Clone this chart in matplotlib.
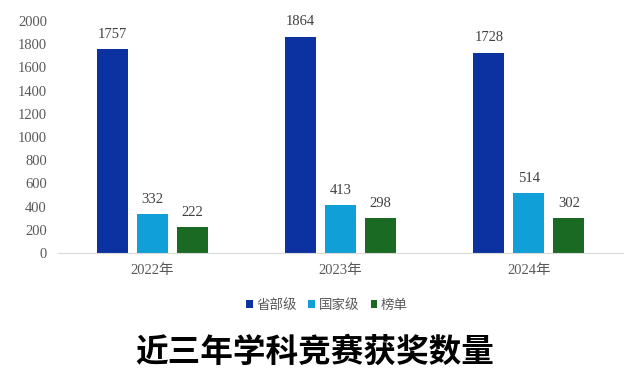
import numpy as np
import matplotlib
matplotlib.use("Agg")
import matplotlib.pyplot as plt

plt.rcParams['font.family'] = ['Liberation Serif', 'Noto Sans CJK SC']

years = ["2022年", "2023年", "2024年"]
provincial = [1757, 1864, 1728]
national = [332, 413, 514]
ranking = [222, 298, 302]
series_names = ["省部级", "国家级", "榜单"]
colors = ["#0B32A0", "#109FD6", "#1B6A24"]

fig = plt.figure(figsize=(6.29, 3.83), dpi=100)
ax = fig.add_axes([58 / 629, 1 - 253 / 383, 565 / 629, 232 / 383])

x = np.arange(len(years))
w = 0.165
step = 0.212
for i, (vals, name, c) in enumerate(zip([provincial, national, ranking], series_names, colors)):
    bars = ax.bar(x + (i - 1) * step, vals, width=w, color=c, label=name)
    for b, v in zip(bars, vals):
        ax.annotate(str(v), (b.get_x() + b.get_width() / 2, v), xytext=(0, 6),
                    textcoords="offset points", ha="center", va="bottom",
                    fontsize=10.5, color="#404040")

ax.set_xlim(-0.5, 2.5)
ax.set_ylim(0, 2000)
ax.set_yticks(range(0, 2001, 200))
ax.set_xticks(x)
ax.set_xticklabels(years)
ax.tick_params(axis="both", length=0, labelsize=10.5, colors="#595959")
ax.tick_params(axis="y", pad=8)
ax.tick_params(axis="x", pad=8)
for s in ["top", "right", "left"]:
    ax.spines[s].set_visible(False)
ax.spines["bottom"].set_color("#D9D9D9")

leg = fig.legend(loc="center", bbox_to_anchor=(327 / 629, 1 - 305 / 383), ncol=3,
                 frameon=False, handlelength=0.5, handleheight=0.5, handletextpad=0.25,
                 columnspacing=0.85, prop={"family": "Noto Sans CJK SC", "size": 9.7})
for t in leg.get_texts():
    t.set_color("#595959")

fig.text(0.5, 1 - 352 / 383, "近三年学科竞赛获奖数量", ha="center", va="center",
         fontsize=23.5, fontweight="bold", family="Noto Sans CJK SC", color="black")

fig.savefig("out.png", dpi=100)
